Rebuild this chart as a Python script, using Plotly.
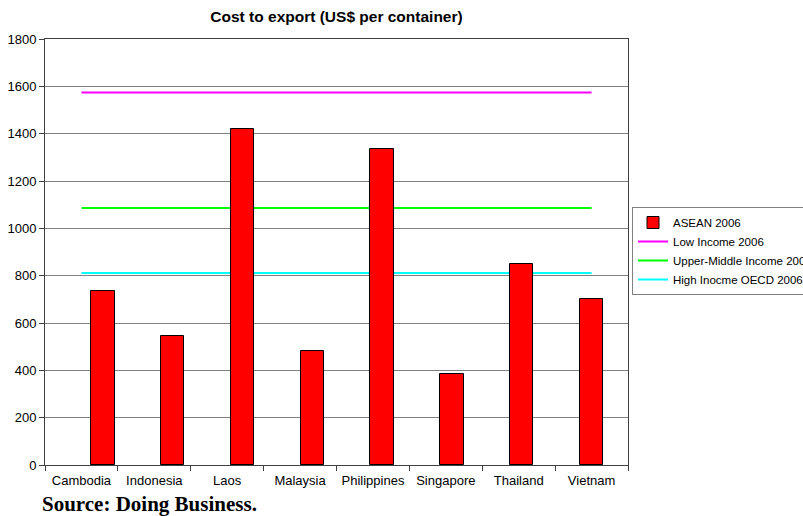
import plotly.graph_objects as go

countries = ["Cambodia", "Indonesia", "Laos", "Malaysia", "Philippines",
             "Singapore", "Thailand", "Vietnam"]
asean_2006 = [736, 546, 1420, 482, 1335, 383, 849, 701]

low_income_2006 = 1574
upper_middle_income_2006 = 1086
high_income_oecd_2006 = 811

y_ticks = [0, 200, 400, 600, 800, 1000, 1200, 1400, 1600, 1800]

fig = go.Figure()

# Columns sit on their own category axis, laid over the labelled one
fig.add_trace(go.Bar(
    x=countries, y=asean_2006, name="ASEAN 2006",
    marker=dict(color="#FF0000", line=dict(color="#000000", width=1)),
    width=0.334, xaxis="x2",
))

for label, value, colour in [
    ("Low Income 2006", low_income_2006, "#FF00FF"),
    ("Upper-Middle Income 2006", upper_middle_income_2006, "#00FF00"),
    ("High Inocme OECD 2006", high_income_oecd_2006, "#00FFFF"),
]:
    fig.add_trace(go.Scatter(
        x=countries, y=[value] * len(countries), name=label,
        mode="lines", line=dict(color=colour, width=2),
    ))

font_family = "Liberation Sans, Arial, sans-serif"

fig.update_layout(
    width=803, height=516,
    margin=dict(l=45, r=175, t=39, b=51, autoexpand=False),
    paper_bgcolor="white", plot_bgcolor="white",
    font=dict(family=font_family, size=13, color="#000000"),
    title=dict(text="<b>Cost to export (US$ per container)</b>",
               x=336.5 / 803, xanchor="center", y=1 - 17 / 516, yanchor="middle",
               font=dict(family=font_family, size=15.5, color="#000000")),
    showlegend=True,
    legend=dict(x=632 / 803, y=1 - 207 / 516, xref="container", yref="container",
                xanchor="left", yanchor="top",
                bgcolor="white", bordercolor="#808080", borderwidth=1,
                font=dict(family=font_family, size=11.5, color="#000000"),
                itemwidth=30, tracegroupgap=0),
    xaxis=dict(type="category", categoryorder="array", categoryarray=countries,
               range=[-0.5, 7.5], showgrid=False,
               ticks="outside", tickson="boundaries", ticklen=5,
               tickcolor="#404040", showline=True, linecolor="#404040",
               linewidth=1, mirror=True, zeroline=False,
               ticklabelstandoff=3, tickfont=dict(size=13)),
    xaxis2=dict(type="category", categoryorder="array", categoryarray=countries,
                overlaying="x", range=[-0.831, 7.523], visible=False),
    yaxis=dict(range=[0, 1800], tickvals=y_ticks, showgrid=True,
               gridcolor="#808080", gridwidth=1, ticks="outside", ticklen=5,
               tickcolor="#404040", showline=True, linecolor="#404040",
               linewidth=1, mirror=True, zeroline=False,
               tickfont=dict(size=13)),
    bargap=0,
)

fig.add_annotation(
    text="<b>Source: Doing Business.</b>",
    xref="paper", yref="paper", x=(40 - 45) / 583, y=(465 - 504) / 426,
    xanchor="left", yanchor="middle", showarrow=False,
    font=dict(family="Liberation Serif, Times New Roman, serif", size=21,
              color="#000000"),
)

fig.write_html("out.html")
